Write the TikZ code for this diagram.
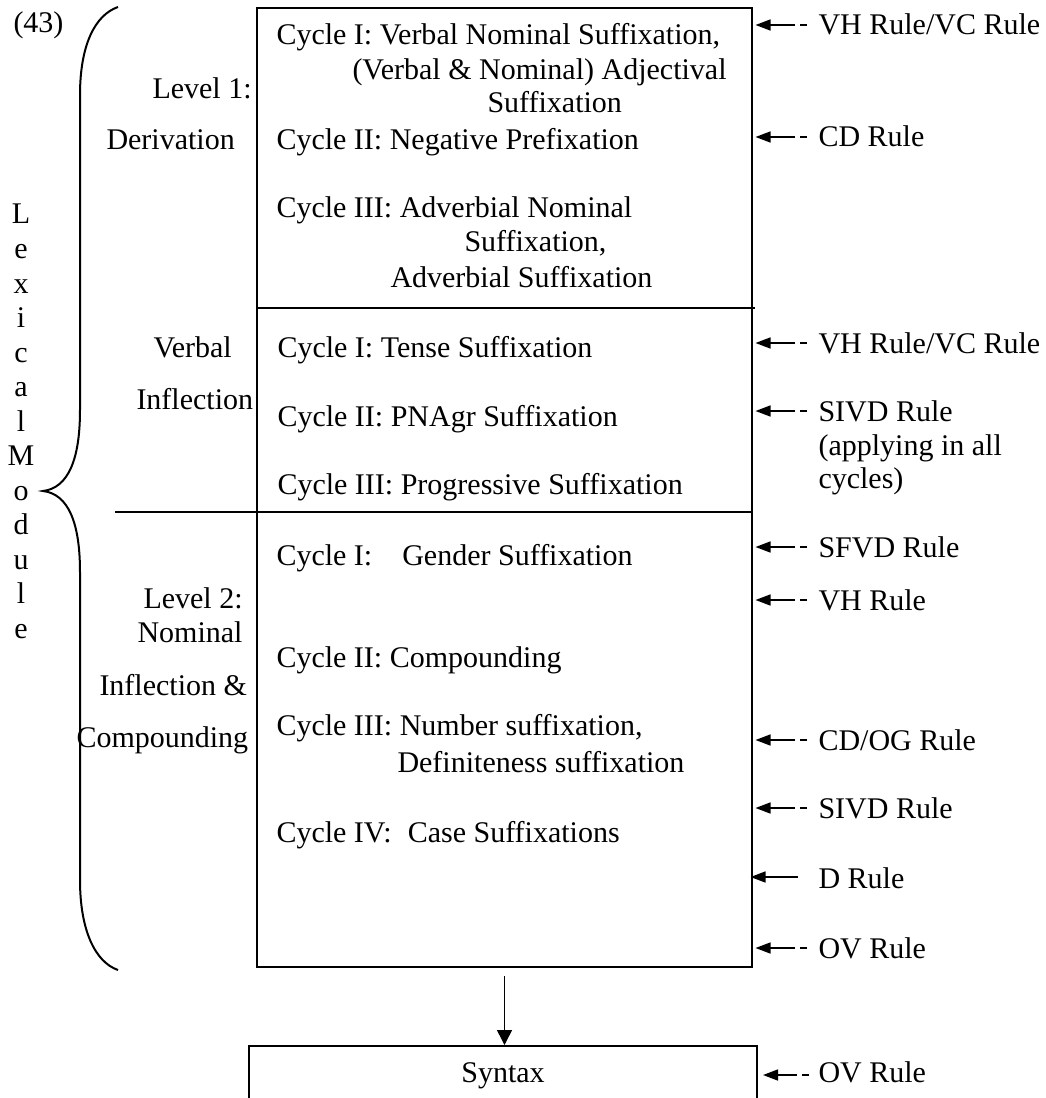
\documentclass[tikz,border=0pt]{standalone}
\usepackage{fontspec}
\setmainfont{Liberation Serif}
\usetikzlibrary{arrows.meta}

\tikzset{
	txt/.style={anchor=base west,inner sep=0pt,font=\fontsize{12}{13.6}\selectfont},
	letter/.style={anchor=base,inner sep=0pt,font=\fontsize{12}{13.6}\selectfont},
	framebox/.style={draw,line width=0.8pt,inner sep=0pt},
	rulehead/.style={-{Triangle[length=6pt,width=4.4pt]}},
	rulearrow/.style={line width=0.6pt,rulehead,
		dash pattern=on 2.8pt off 2pt on 40pt off 1pt},
	flow/.style={line width=0.6pt,-{Triangle[length=6pt,width=6pt]}}
}

\begin{document}
\begin{tikzpicture}[x=0.4pt,y=-0.4pt]
	\useasboundingbox (0,0) rectangle (1045,1098);
	% boxes
	\node[framebox,minimum width=198pt,minimum height=383.6pt] (lex) at (504.5,487.5) {};
	\node[framebox,minimum width=203.2pt,minimum height=24pt,
		font=\fontsize{12}{13.6}\selectfont] (syn) at (503,1076) {Syntax};
	\draw[line width=0.8pt] (257,308) -- (755,308);
	\draw[line width=0.8pt] (115,512) -- (752,512);
	\draw[flow] ([yshift=-3.2pt]lex.south) -- (lex.south |- syn.north);
	% brace
	\draw[line width=0.8pt] (118,7) .. controls (95,15) and (80,45) .. (80,95)
		-- (80,410) .. controls (80,460) and (68,488) .. (43,491)
		.. controls (68,494) and (80,522) .. (80,572)
		-- (80,880) .. controls (80,930) and (95,962) .. (118,970);
	\node[txt] (num) at (13,33) {(43)};
	\foreach \ch [count=\k from 0] in {L,e,x,i,c,a,l,M,o,d,u,l,e}
	{
		\node[letter] (lm\k) at (21,224+34.5*\k) {\ch};
	}
	% left labels
	\node[txt] (lv1) at (152,99) {Level 1:};
	\node[txt] (der) at (106,150) {Derivation};
	\node[txt] (vrb) at (153,357) {Verbal};
	\node[txt] (vinf) at (136,409) {Inflection};
	\node[txt] (lv2) at (143,608) {Level 2:};
	\node[txt] (nom) at (137,642) {Nominal};
	\node[txt] (ninf) at (99,695) {Inflection \&};
	\node[txt] (cmp) at (76,747) {Compounding};
	% cycles
	\node[txt] (d1a) at (276,45) {Cycle I: Verbal Nominal Suffixation,};
	\node[txt] (d1b) at (352,80) {(Verbal \& Nominal) Adjectival};
	\node[txt] (d1c) at (487,113) {Suffixation};
	\node[txt] (d2) at (276,150) {Cycle II: Negative Prefixation};
	\node[txt] (d3a) at (276,218) {Cycle III: Adverbial Nominal};
	\node[txt] (d3b) at (464,252) {Suffixation,};
	\node[txt] (d3c) at (390,287) {Adverbial Suffixation};
	\node[txt] (v1) at (277,357) {Cycle I: Tense Suffixation};
	\node[txt] (v2) at (277,426) {Cycle II: PNAgr Suffixation};
	\node[txt] (v3) at (277,494) {Cycle III: Progressive Suffixation};
	\node[txt] (n1) at (276,565) {Cycle I:\hspace{12pt}Gender Suffixation};
	\node[txt] (n2) at (276,667) {Cycle II: Compounding};
	\node[txt] (n3a) at (276,735) {Cycle III: Number suffixation,};
	\node[txt] (n3b) at (397,772) {Definiteness suffixation};
	\node[txt] (n4) at (276,842) {Cycle IV:\hspace{6.4pt}Case Suffixations};
	% rules
	\foreach \by/\lbl [count=\i] in {35/{VH Rule/VC Rule},147/{CD Rule},353/{VH Rule/VC Rule},
		421/{SIVD Rule},557/{SFVD Rule},610/{VH Rule},750/{CD/OG Rule},818/{SIVD Rule},958/{OV Rule}}
	{
		\node[txt] (r\i) at (818,\by) {\lbl};
		\coordinate (t\i) at ([shift={(-4.4pt,4pt)}]r\i.base west);
		\draw[rulearrow] (t\i) -- ([xshift=1pt]t\i -| lex.east);
	}
	\node[txt] (r4b) at (818,455) {(applying in all};
	\node[txt] (r4c) at (818,488) {cycles)};
	\node[txt] (rd) at (818,888) {D Rule};
	\coordinate (td) at ([shift={(-8pt,4.4pt)}]rd.base west);
	\draw[line width=0.6pt,rulehead] (td) -- ([xshift=-1pt]td -| lex.east);
	\node[txt] (rs) at (818,1082) {OV Rule};
	\coordinate (ts) at ([shift={(-3.6pt,2.8pt)}]rs.base west);
	\draw[rulearrow] (ts) -- ([xshift=2pt]ts -| syn.east);
\end{tikzpicture}
\end{document}
